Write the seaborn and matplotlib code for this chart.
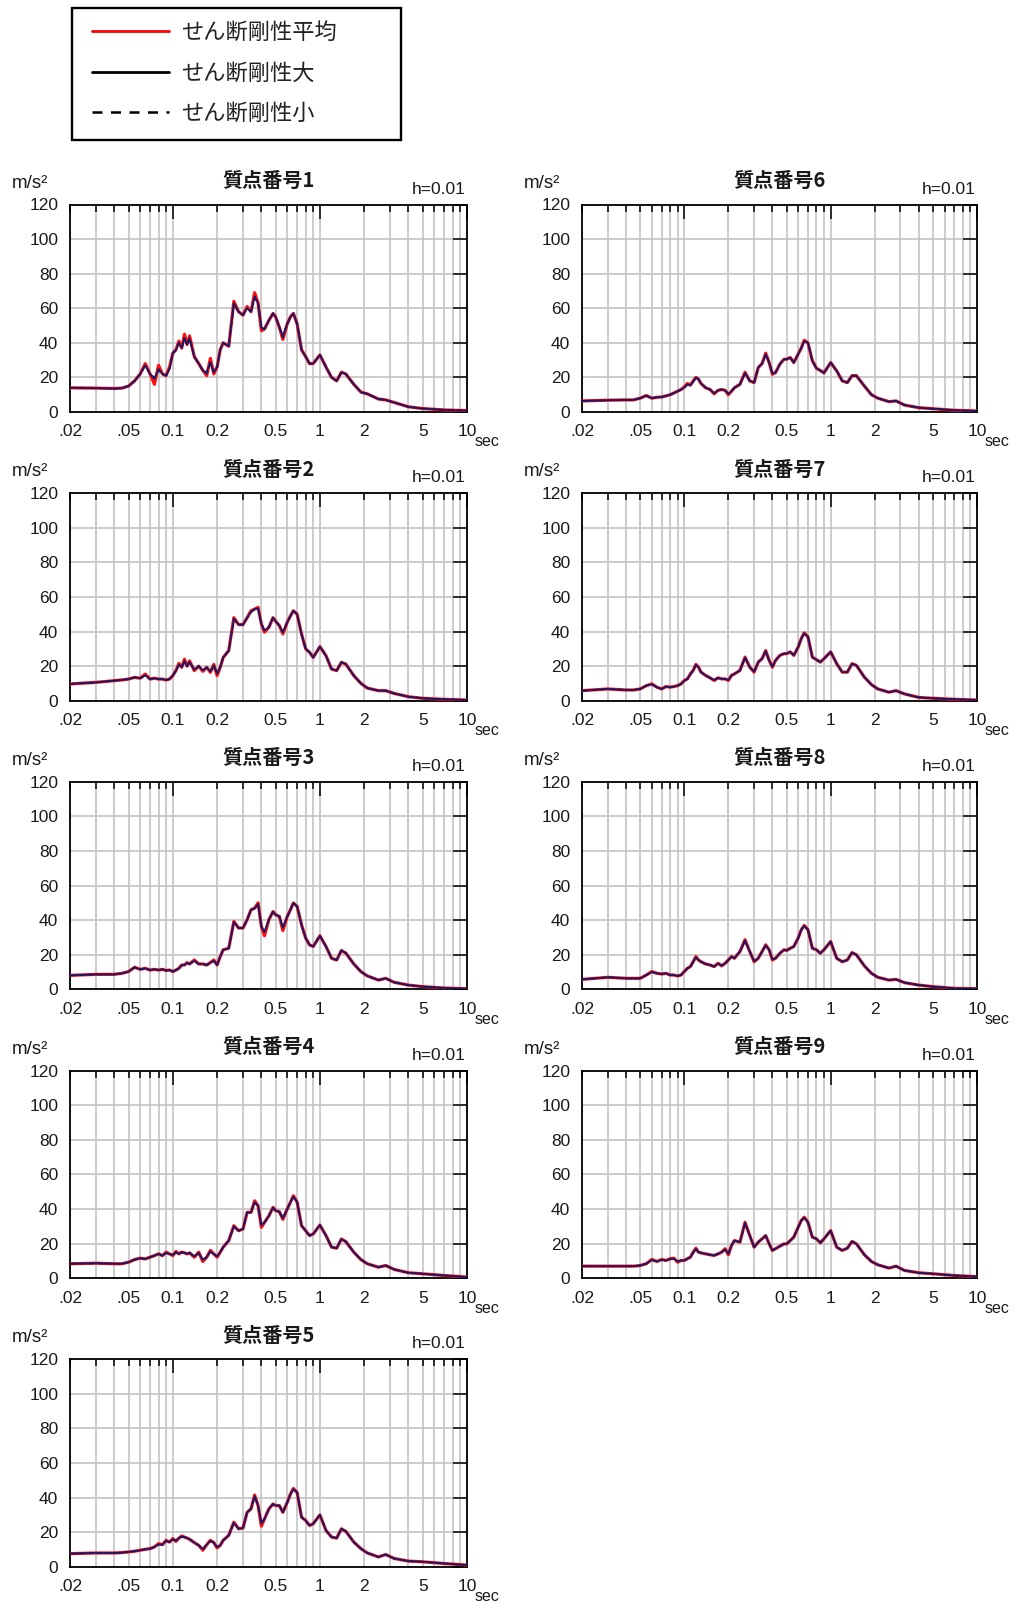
import numpy as np
import pandas as pd
import matplotlib
matplotlib.use("Agg")
import matplotlib.pyplot as plt
import seaborn as sns
from matplotlib.lines import Line2D
from matplotlib.patches import Rectangle
from matplotlib.font_manager import FontProperties
from matplotlib.ticker import FixedLocator, FixedFormatter

# ---------------- data ----------------
periods = [0.02, 0.03, 0.04, 0.045, 0.05, 0.055, 0.06, 0.065, 0.07, 0.075,
           0.08, 0.085, 0.09, 0.095, 0.1, 0.105, 0.11, 0.115, 0.12, 0.125,
           0.13, 0.14, 0.15, 0.16, 0.17, 0.18, 0.19, 0.2, 0.21, 0.22,
           0.24, 0.26, 0.28, 0.3, 0.32, 0.34, 0.36, 0.38, 0.4, 0.42,
           0.45, 0.48, 0.5, 0.53, 0.56, 0.6, 0.63, 0.66, 0.7, 0.75,
           0.8, 0.85, 0.9, 1.0, 1.1, 1.2, 1.3, 1.4, 1.5, 1.7,
           1.9, 2.1, 2.5, 2.8, 3.2, 4.0, 5.0, 7.0, 10.0]

panel_titles = ["質点番号1", "質点番号2", "質点番号3", "質点番号4", "質点番号5",
                "質点番号6", "質点番号7", "質点番号8", "質点番号9"]
series_names = ["せん断剛性平均", "せん断剛性大", "せん断剛性小"]
x_major_ticks = [0.1, 1, 10]
x_major_labels = ["0.1", "1", "10"]
x_minor_ticks = [0.02, 0.03, 0.04, 0.05, 0.06, 0.07, 0.08, 0.09,
                 0.2, 0.3, 0.4, 0.5, 0.6, 0.7, 0.8, 0.9,
                 2, 3, 4, 5, 6, 7, 8, 9]
x_minor_labels = [".02", "", "", ".05", "", "", "", "",
                  "0.2", "", "", "0.5", "", "", "", "",
                  "2", "", "", "5", "", "", "", ""]
y_ticks = [0, 20, 40, 60, 80, 100, 120]

# panel 1
avg1 = [14, 13.8, 13.6, 13.8, 15, 18, 22, 28, 22, 16, 27, 22, 21, 26, 34, 36, 41, 37, 45, 39,
        44, 32, 28, 24, 21, 31, 22, 26, 36, 40, 38, 64, 58, 56, 61, 58, 69, 63, 47, 48,
        53, 57, 55, 49, 42, 51, 55, 57, 51, 36, 32, 28, 28, 33, 26, 20, 18, 23, 22, 16,
        11.5, 10.5, 7.5, 7, 5.5, 3, 2, 1.2, 0.8]
big1 = [14, 13.8, 13.6, 13.8, 15, 18, 22, 27, 22, 19, 25, 22, 21, 25, 34, 36, 40, 37, 43, 39,
        42, 32, 28, 24, 23, 29, 23, 26, 36, 40, 38, 63, 58, 56, 60, 58, 67, 63, 49, 48,
        53, 57, 55, 49, 44, 51, 55, 57, 51, 36, 32, 28, 28, 33, 26, 20, 18, 23, 22, 16,
        11.5, 10.5, 7.5, 7, 5.5, 3, 2, 1.2, 0.8]
small1 = [14, 13.8, 13.6, 13.8, 15, 18, 22, 27, 22, 20, 24, 22, 21, 25, 34, 36, 40, 37, 42, 39,
          43, 32, 28, 24, 22, 28, 23, 26, 36, 40, 38, 62, 58, 56, 60, 58, 66, 63, 48, 48,
          53, 57, 55, 49, 43, 51, 55, 57, 51, 36, 32, 28, 28, 33, 26, 20, 18, 23, 22, 16,
          11.5, 10.5, 7.5, 7, 5.5, 3, 2, 1.2, 0.8]

# panel 2
avg2 = [9.7, 10.6, 11.6, 12, 12.5, 13.5, 13, 15.4, 12.5, 13, 12.5, 12.5, 12, 12.5, 14.5, 17.4, 21.6, 19.3, 24, 20,
        23, 17.4, 20, 17, 19.3, 16.4, 21, 14.5, 19.3, 25, 29, 48, 44, 44, 48, 52, 53, 54, 44.4, 39.6,
        42.5, 48, 46, 43.4, 38.6, 45.4, 49, 52, 50, 38.6, 30, 28, 25, 31.3, 26, 18.3, 17.4, 22.2, 21.2, 14.5,
        10, 7.3, 5.8, 5.8, 4.2, 2.3, 1.4, 0.8, 0.4]
big2 = [9.7, 10.6, 11.6, 12, 12.5, 13.5, 13, 14.8, 12.5, 13, 12.5, 12.5, 12, 12.5, 14.5, 17.4, 21, 19.3, 23, 20,
        22.5, 18, 20, 17.5, 19.3, 17, 20.5, 15.5, 19.3, 25, 29, 47.5, 44, 44, 48, 51.5, 53, 53.5, 44.4, 40.5,
        42.5, 48, 46, 43.4, 39.5, 45.4, 49, 52, 50, 38.6, 30, 28, 25, 31.3, 26, 18.3, 17.4, 22.2, 21.2, 14.5,
        10, 7.3, 5.8, 5.8, 4.2, 2.3, 1.4, 0.8, 0.4]
small2 = [9.7, 10.6, 11.6, 12, 12.5, 13.5, 13, 14.5, 12.5, 13, 12.5, 12.5, 12, 12.5, 14.5, 17.4, 20.8, 19.3, 22.5, 20,
          22, 18, 20, 17.5, 19.3, 17, 20, 16, 19.3, 25, 29, 47, 44, 44, 48, 51, 53, 53, 44.4, 40.5,
          42.5, 48, 46, 43.4, 39.5, 45.4, 49, 52, 50, 38.6, 30, 28, 25, 31.3, 26, 18.3, 17.4, 22.2, 21.2, 14.5,
          10, 7.3, 5.8, 5.8, 4.2, 2.3, 1.4, 0.8, 0.4]

# panel 3
avg3 = [8.1, 8.7, 8.7, 9.3, 10.3, 12.8, 11.6, 12.2, 11.2, 11.6, 11.2, 11.6, 10.9, 11.2, 10.3, 11.2, 12.2, 14.1, 14.1, 15.5,
        14.7, 17, 14.7, 14.7, 14.1, 15.5, 17, 14.1, 19, 22.9, 23.8, 39.3, 35.5, 35.5, 40.3, 46, 47, 50, 36.4, 31,
        40.3, 45, 43.2, 42.2, 34, 42.2, 46, 50, 48, 37.4, 29.7, 25.8, 24.8, 31, 24.8, 18, 17, 22.5, 21, 14.7,
        10.3, 7.8, 5.4, 6.4, 4.1, 2.5, 1.6, 0.8, 0.4]
big3 = [8.1, 8.7, 8.7, 9.3, 10.3, 12.8, 11.6, 12.2, 11.2, 11.6, 11.2, 11.6, 10.9, 11.2, 10.3, 11.2, 12.2, 14.1, 14.1, 15.2,
        14.7, 16.6, 14.7, 14.7, 14.1, 15.5, 16.6, 14.1, 19, 22.9, 23.8, 39, 35.5, 35.5, 40.3, 46, 47, 49.5, 36.4, 33,
        40.3, 45, 43.2, 42.2, 35.5, 42.2, 46, 50, 48, 37.4, 29.7, 25.8, 24.8, 31, 24.8, 18, 17, 22.5, 21, 14.7,
        10.3, 7.8, 5.4, 6.4, 4.1, 2.5, 1.6, 0.8, 0.4]
small3 = [8.1, 8.7, 8.7, 9.3, 10.3, 12.8, 11.6, 12.2, 11.2, 11.6, 11.2, 11.6, 10.9, 11.2, 10.3, 11.2, 12.2, 14.1, 14.1, 15,
          14.7, 16.4, 14.7, 14.7, 14.1, 15.5, 16.4, 14.1, 19, 22.9, 23.8, 38.8, 35.5, 35.5, 40.3, 46, 47, 49, 36.4, 33.5,
          40.3, 45, 43.2, 42.2, 35.8, 42.2, 46, 50, 48, 37.4, 29.7, 25.8, 24.8, 31, 24.8, 18, 17, 22.5, 21, 14.7,
          10.3, 7.8, 5.4, 6.4, 4.1, 2.5, 1.6, 0.8, 0.4]

# panel 4
avg4 = [8.3, 8.6, 8.3, 8.3, 9.2, 10.7, 11.5, 11.1, 12.1, 13, 14, 13, 15, 14, 13, 15.4, 14, 15, 14.6, 14,
        14.6, 12.1, 15, 9.6, 12.1, 16, 14, 12.1, 15, 17.9, 21.7, 30.3, 27.4, 28.4, 38, 38, 44.7, 41.8, 29.4, 32.2,
        36, 40.9, 39, 38.4, 34, 40, 43.8, 47.6, 44, 30.3, 27.4, 24.6, 25.5, 30.7, 24.6, 17.9, 17.3, 22.6, 21.1, 15,
        10.7, 8.3, 6.3, 7.3, 5, 3.1, 2.5, 1.5, 0.6]
big4 = [8.3, 8.6, 8.3, 8.3, 9.2, 10.7, 11.5, 11.1, 12.1, 13, 14, 13, 14.6, 14, 13.4, 15, 14, 15, 14.6, 14,
        14.6, 12.5, 14.6, 10.5, 12.1, 15.5, 14, 12.5, 15, 17.9, 21.7, 30, 27.4, 28.4, 38, 38, 44, 41.8, 30.5, 32.2,
        36, 40.9, 39, 38.4, 34.5, 40, 43.8, 47.2, 44, 30.3, 27.4, 24.6, 25.5, 30.7, 24.6, 17.9, 17.3, 22.6, 21.1, 15,
        10.7, 8.3, 6.3, 7.3, 5, 3.1, 2.5, 1.5, 0.6]
small4 = [8.3, 8.6, 8.3, 8.3, 9.2, 10.7, 11.5, 11.1, 12.1, 13, 14, 13, 14.4, 14, 13.6, 14.8, 14, 15, 14.6, 14,
          14.6, 12.6, 14.4, 10.8, 12.1, 15.2, 14, 12.6, 15, 17.9, 21.7, 29.8, 27.4, 28.4, 38, 38, 43.6, 41.8, 31, 32.2,
          36, 40.9, 39, 38.4, 34.8, 40, 43.8, 47, 44, 30.3, 27.4, 24.6, 25.5, 30.7, 24.6, 17.9, 17.3, 22.6, 21.1, 15,
          10.7, 8.3, 6.3, 7.3, 5, 3.1, 2.5, 1.5, 0.6]

# panel 5
avg5 = [7.6, 8, 8, 8.2, 8.6, 9, 9.6, 10.1, 10.5, 11.5, 13.4, 12.8, 15.3, 14.3, 16.3, 14.7, 16.6, 17.8, 17.2, 16.6,
        15.9, 14, 12.4, 9.6, 12.8, 15.3, 14, 10.9, 12.4, 15.3, 18.2, 25.8, 22, 22.4, 31.5, 33.5, 41.5, 35.4, 23.5, 27.7,
        33.5, 36.3, 35.4, 35.4, 31.5, 37.3, 42, 45.3, 43, 28.7, 26.8, 23.9, 24.9, 30, 21, 17.2, 16.6, 22, 20.5, 14.3,
        10.5, 8, 5.7, 7.1, 4.8, 3.3, 2.9, 1.9, 1]
big5 = [7.6, 8, 8, 8.2, 8.6, 9, 9.6, 10.1, 10.5, 11.5, 13, 12.8, 15, 14.3, 16, 15, 16.6, 17.5, 17.2, 16.6,
        15.9, 14, 12.4, 10.2, 12.8, 15, 14, 11.3, 12.4, 15.3, 18.2, 25.5, 22, 22.4, 31.5, 33.5, 41, 35.4, 24.9, 27.7,
        33.5, 36.3, 35.4, 35.4, 31.5, 37.3, 42, 45, 43, 28.7, 26.8, 23.9, 24.9, 30, 21, 17.2, 16.6, 22, 20.5, 14.3,
        10.5, 8, 5.7, 7.1, 4.8, 3.3, 2.9, 1.9, 1]
small5 = [7.6, 8, 8, 8.2, 8.6, 9, 9.6, 10.1, 10.5, 11.5, 12.8, 12.8, 14.8, 14.3, 15.8, 15.2, 16.6, 17.3, 17.2, 16.6,
          15.9, 14, 12.4, 10.4, 12.8, 14.8, 14, 11.5, 12.4, 15.3, 18.2, 25.3, 22, 22.4, 31.5, 33.5, 40.6, 35.4, 25.5, 27.7,
          33.5, 36.3, 35.4, 35.4, 31.5, 37.3, 42, 44.8, 43, 28.7, 26.8, 23.9, 24.9, 30, 21, 17.2, 16.6, 22, 20.5, 14.3,
          10.5, 8, 5.7, 7.1, 4.8, 3.3, 2.9, 1.9, 1]

# panel 6
avg6 = [6.4, 6.8, 7, 7, 8, 9.5, 8, 8.5, 8.7, 9.3, 10, 11, 12, 13, 14.5, 16.5, 15.5, 18, 20, 19,
        16.5, 14, 13, 10.5, 12.5, 13, 12.5, 10, 12, 14, 16, 23, 18, 17, 25.7, 28, 34, 28.6, 21.8, 22.8,
        27.7, 30.5, 30.5, 31.5, 28.6, 33.5, 37, 41.5, 40, 29.6, 25.3, 24, 22.6, 28.6, 23.8, 18, 17, 21, 21, 15,
        10, 8, 6, 6.4, 4, 2.5, 1.9, 1, 0.6]
big6 = [6.4, 6.8, 7, 7, 8, 9.5, 8, 8.5, 8.7, 9.3, 10, 11, 12, 13, 14.2, 16, 15.5, 17.6, 20, 19,
        16.5, 14, 13, 10.8, 12.5, 13, 12.5, 10.4, 12, 14, 16, 22.6, 18, 17, 25.7, 28, 33.5, 28.6, 22.2, 22.8,
        27.7, 30.5, 30.5, 31.5, 28.6, 33.5, 37, 41, 40, 29.6, 25.3, 24, 22.6, 28.6, 23.8, 18, 17, 21, 21, 15,
        10, 8, 6, 6.4, 4, 2.5, 1.9, 1, 0.6]
small6 = [6.4, 6.8, 7, 7, 8, 9.5, 8, 8.5, 8.7, 9.3, 10, 11, 12, 13, 14, 15.8, 15.5, 17.4, 20, 19,
          16.5, 14, 13, 11, 12.5, 13, 12.5, 10.6, 12, 14, 16, 22.4, 18, 17, 25.7, 28, 33.2, 28.6, 22.4, 22.8,
          27.7, 30.5, 30.5, 31.5, 28.6, 33.5, 37, 40.8, 40, 29.6, 25.3, 24, 22.6, 28.6, 23.8, 18, 17, 21, 21, 15,
          10, 8, 6, 6.4, 4, 2.5, 1.9, 1, 0.6]

# panel 7
avg7 = [5.8, 6.8, 6.2, 6.2, 6.8, 8.7, 9.7, 7.8, 6.8, 8.2, 7.8, 8.2, 8.7, 9.7, 11.7, 12.6, 15.5, 17.5, 21, 19.4,
        16.5, 14.6, 13.2, 11.7, 13.2, 12.6, 12.6, 11.7, 14.6, 15.5, 17.5, 25.2, 19.4, 16.5, 22.3, 24.3, 29, 23.3, 19.4, 23.3,
        26.2, 27.2, 27.2, 28.2, 26.2, 31, 36, 39.2, 36.9, 25.2, 23.7, 22.3, 24.3, 28.2, 21.4, 16.5, 16.5, 21.4, 20.4, 13.6,
        9.3, 6.8, 4.9, 5.8, 3.9, 1.9, 1.4, 0.8, 0.4]
big7 = [5.8, 6.8, 6.2, 6.2, 6.8, 8.7, 9.5, 7.8, 6.8, 8.2, 7.8, 8.2, 8.7, 9.7, 11.5, 12.6, 15.3, 17.5, 20.7, 19.4,
        16.5, 14.6, 13.2, 11.9, 13.2, 12.6, 12.6, 11.9, 14.6, 15.5, 17.5, 25, 19.4, 16.8, 22.3, 24.3, 28.7, 23.3, 19.6, 23.3,
        26.2, 27.2, 27.2, 28.2, 26.2, 31, 36, 39, 36.9, 25.2, 23.7, 22.3, 24.3, 28.2, 21.4, 16.5, 16.5, 21.4, 20.4, 13.6,
        9.3, 6.8, 4.9, 5.8, 3.9, 1.9, 1.4, 0.8, 0.4]
small7 = [5.8, 6.8, 6.2, 6.2, 6.8, 8.7, 9.4, 7.8, 6.8, 8.2, 7.8, 8.2, 8.7, 9.7, 11.4, 12.6, 15.2, 17.5, 20.5, 19.4,
          16.5, 14.6, 13.2, 12, 13.2, 12.6, 12.6, 12, 14.6, 15.5, 17.5, 24.8, 19.4, 17, 22.3, 24.3, 28.5, 23.3, 19.8, 23.3,
          26.2, 27.2, 27.2, 28.2, 26.2, 31, 36, 38.8, 36.9, 25.2, 23.7, 22.3, 24.3, 28.2, 21.4, 16.5, 16.5, 21.4, 20.4, 13.6,
          9.3, 6.8, 4.9, 5.8, 3.9, 1.9, 1.4, 0.8, 0.4]

# panel 8
avg8 = [5.8, 7, 6.4, 6.4, 6.4, 8.3, 10.3, 9.3, 8.9, 9.3, 8.3, 8.3, 7.8, 8.3, 10.3, 12.2, 13.2, 16, 19, 17,
        16, 14.7, 14.1, 13.2, 15.1, 13.6, 15.1, 17, 19, 18, 21.9, 28.7, 21.9, 16, 18, 21.9, 25.8, 22.9, 17, 18,
        20.9, 22.9, 22.5, 23.8, 24.8, 29.7, 34.5, 37, 34.5, 23.8, 22.9, 20.9, 22.9, 27.7, 18, 16, 17, 21.3, 20, 13.6,
        9.3, 7, 5.4, 5.8, 3.9, 2.5, 1.6, 0.6, 0.4]
big8 = [5.8, 7, 6.4, 6.4, 6.4, 8.3, 10.1, 9.3, 8.9, 9.3, 8.3, 8.3, 7.8, 8.3, 10.3, 12.2, 13.2, 16, 18.7, 17,
        16, 14.7, 14.1, 13.2, 15, 13.8, 15, 17, 19, 18, 21.9, 28.4, 21.9, 16.3, 18, 21.9, 25.5, 22.9, 17.3, 18,
        20.9, 22.9, 22.5, 23.8, 24.8, 29.7, 34.5, 36.8, 34.5, 23.8, 22.9, 20.9, 22.9, 27.7, 18, 16, 17, 21.3, 20, 13.6,
        9.3, 7, 5.4, 5.8, 3.9, 2.5, 1.6, 0.6, 0.4]
small8 = [5.8, 7, 6.4, 6.4, 6.4, 8.3, 10, 9.3, 8.9, 9.3, 8.3, 8.3, 7.8, 8.3, 10.3, 12.2, 13.2, 16, 18.5, 17,
          16, 14.7, 14.1, 13.2, 14.9, 13.9, 14.9, 17, 19, 18, 21.9, 28.2, 21.9, 16.5, 18, 21.9, 25.3, 22.9, 17.5, 18,
          20.9, 22.9, 22.5, 23.8, 24.8, 29.7, 34.5, 36.6, 34.5, 23.8, 22.9, 20.9, 22.9, 27.7, 18, 16, 17, 21.3, 20, 13.6,
          9.3, 7, 5.4, 5.8, 3.9, 2.5, 1.6, 0.6, 0.4]

# panel 9
avg9 = [6.9, 6.9, 6.9, 6.9, 7.3, 8.3, 10.8, 9.6, 10.8, 10.2, 11.2, 11.5, 9.2, 10.2, 10.2, 11.2, 12.1, 15, 17.3, 15,
        14.6, 14, 13.5, 13.1, 14, 15, 17, 13.5, 18.8, 21.7, 20.8, 32.3, 24.6, 17.9, 20.8, 22.7, 24.6, 19.8, 16, 17,
        18.5, 19.8, 19.8, 21.7, 23.7, 29.4, 33.3, 35.2, 32.3, 23.7, 22.7, 20.4, 22.7, 27.5, 17.9, 16, 17.3, 21.2, 19.8, 13.5,
        9.6, 7.7, 5.8, 6.9, 4.4, 3.1, 2.5, 1.5, 0.8]
big9 = [6.9, 6.9, 6.9, 6.9, 7.3, 8.3, 10.6, 9.6, 10.6, 10.2, 11, 11.3, 9.5, 10.2, 10.2, 11.2, 12.1, 14.8, 17, 15,
        14.6, 14, 13.5, 13.1, 14, 15, 16.6, 14, 18.8, 21.7, 20.8, 32, 24.6, 17.9, 20.8, 22.7, 24.6, 19.8, 16, 17,
        18.5, 19.8, 19.8, 21.7, 23.7, 29.4, 33.3, 35, 32.3, 23.7, 22.7, 20.4, 22.7, 27.5, 17.9, 16, 17.3, 21.2, 19.8, 13.5,
        9.6, 7.7, 5.8, 6.9, 4.4, 3.1, 2.5, 1.5, 0.8]
small9 = [6.9, 6.9, 6.9, 6.9, 7.3, 8.3, 10.5, 9.6, 10.5, 10.2, 10.9, 11.2, 9.7, 10.2, 10.2, 11.2, 12.1, 14.6, 16.8, 15,
          14.6, 14, 13.5, 13.1, 14, 15, 16.4, 14.2, 18.8, 21.7, 20.8, 31.8, 24.6, 17.9, 20.8, 22.7, 24.6, 19.8, 16, 17,
          18.5, 19.8, 19.8, 21.7, 23.7, 29.4, 33.3, 34.8, 32.3, 23.7, 22.7, 20.4, 22.7, 27.5, 17.9, 16, 17.3, 21.2, 19.8, 13.5,
          9.6, 7.7, 5.8, 6.9, 4.4, 3.1, 2.5, 1.5, 0.8]

avg_list = [avg1, avg2, avg3, avg4, avg5, avg6, avg7, avg8, avg9]
big_list = [big1, big2, big3, big4, big5, big6, big7, big8, big9]
small_list = [small1, small2, small3, small4, small5, small6, small7, small8, small9]

# ---------------- style ----------------
sns.set_theme(style="white")
plt.rcParams["font.family"] = ["Liberation Sans", "Noto Sans CJK JP", "DejaVu Sans"]
plt.rcParams["axes.unicode_minus"] = False

W, H = 1022, 1605
fig = plt.figure(figsize=(W / 100, H / 100), dpi=100)

col_left = [70, 582]
col_width = [397, 395]
row_top = [204.5, 493.2, 781.9, 1070.6, 1359.3]
ax_h = 207.5

RED = "#ff1010"
NAVY = "#181868"
GRID = "#c4c4c4"
TXT = "#1a1a1a"

for i in range(9):
    col = 0 if i < 5 else 1
    row = i if i < 5 else i - 5
    l = col_left[col] / W
    w = col_width[col] / W
    b = 1 - (row_top[row] + ax_h) / H
    h = ax_h / H
    ax = fig.add_axes([l, b, w, h])

    df = pd.DataFrame({"T": periods, "avg": avg_list[i], "big": big_list[i], "small": small_list[i]})
    sns.lineplot(data=df, x="T", y="avg", ax=ax, color=RED, lw=2.3, estimator=None,
                 sort=False, legend=False, zorder=3)
    sns.lineplot(data=df, x="T", y="big", ax=ax, color=NAVY, lw=1.2, estimator=None,
                 sort=False, legend=False, zorder=4)
    sns.lineplot(data=df, x="T", y="small", ax=ax, color=NAVY, lw=1.2, linestyle="--",
                 estimator=None, sort=False, legend=False, zorder=5)

    ax.set_xscale("log")
    ax.set_xlim(0.02, 10)
    ax.set_ylim(0, 120)
    ax.set_xlabel("")
    ax.set_ylabel("")
    ax.xaxis.set_major_locator(FixedLocator(x_major_ticks))
    ax.xaxis.set_major_formatter(FixedFormatter(x_major_labels))
    ax.xaxis.set_minor_locator(FixedLocator(x_minor_ticks))
    ax.xaxis.set_minor_formatter(FixedFormatter(x_minor_labels))
    ax.set_yticks(y_ticks)
    ax.set_yticklabels([str(v) for v in y_ticks])

    ax.grid(True, which="both", axis="x", color=GRID, lw=1.2, zorder=0)
    ax.grid(True, which="major", axis="y", color=GRID, lw=1.2, zorder=0)
    ax.set_axisbelow(True)

    ax.tick_params(axis="both", which="major", direction="in", length=10, width=1.1,
                   color="black", top=True, right=True, labelsize=12.5, labelcolor=TXT)
    ax.tick_params(axis="x", which="minor", direction="in", length=5, width=1.1,
                   color="black", top=True, labelsize=12.5, labelcolor=TXT, pad=9)
    ax.tick_params(axis="x", which="major", pad=9)
    ax.tick_params(axis="y", which="major", pad=8.4)
    for sp in ax.spines.values():
        sp.set_color("black")
        sp.set_linewidth(1.3)
        sp.set_visible(True)

    # annotations
    pw = col_width[col]
    ax.text(0.5, 1 + 24 / ax_h, panel_titles[i], transform=ax.transAxes, ha="center",
            va="center", fontsize=14.5, fontweight="bold", color=TXT,
            family=["Noto Sans CJK JP", "DejaVu Sans"])
    ax.text(1 - 1.5 / pw, 1 + 15.5 / ax_h, "h=0.01", transform=ax.transAxes, ha="right",
            va="center", fontsize=12.5, color=TXT)
    ax.text(-58 / pw, 1 + 17 / ax_h, "m/s²", transform=ax.transAxes, ha="left",
            va="baseline", fontsize=13.5, color=TXT)
    ax.text(1 + 8 / pw, -30 / ax_h, "sec", transform=ax.transAxes, ha="left",
            va="center", fontsize=11.5, color=TXT)

# legend frame (drawn as a figure rectangle) and legend entries
fig.patches.append(Rectangle((72 / W, 1 - 140 / H), (401 - 72) / W, (140 - 8) / H,
                             transform=fig.transFigure, fill=False, edgecolor="black",
                             lw=1.7, zorder=10))
handles = [Line2D([], [], color="#ff0000", lw=2.0),
           Line2D([], [], color="black", lw=2.0),
           Line2D([], [], color="black", lw=1.8, dashes=(4, 3.4))]
leg_fs = 16
leg = fig.legend(handles, series_names, loc="upper left",
                 bbox_to_anchor=(92 / W, 1 - 21 / H), frameon=False,
                 prop=FontProperties(family="Noto Sans CJK JP", size=leg_fs),
                 handlelength=77 / (leg_fs * 100 / 72), handletextpad=0.54,
                 labelspacing=0.79, borderpad=0, borderaxespad=0)
for t in leg.get_texts():
    t.set_color("#222222")

fig.savefig("out.png", dpi=100)
